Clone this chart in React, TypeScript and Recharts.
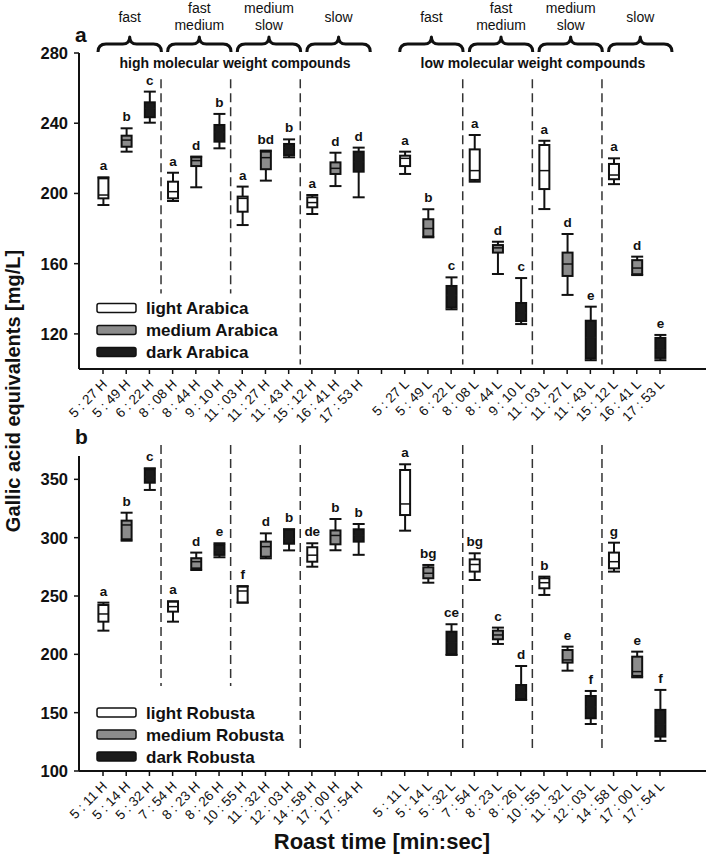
import React from "react";
import { ComposedChart, Bar, XAxis, YAxis, ReferenceLine } from "recharts";

const FONT = "'Liberation Sans', Arial, Helvetica, sans-serif";

// tick labels (roast times)
const arabicaTimes = ["5 : 27", "5 : 49", "6 : 22", "8 : 08", "8 : 44", "9 : 10", "11 : 03", "11 : 27", "11 : 43", "15 : 12", "16 : 41", "17 : 53"];
const robustaTimes = ["5 : 11", "5 : 14", "5 : 32", "7 : 54", "8 : 23", "8 : 26", "10 : 55", "11 : 32", "12 : 03", "14 : 58", "17 : 00", "17 : 54"];
const tones = ["light", "medium", "dark"];

// box values: [whisker low, q1, median, q3, whisker high]
const arabicaHigh = [
  [193.4, 197.2, 199.1, 208.6, 209.2], [223.8, 226.6, 230.4, 232.9, 237.1], [240.3, 243.4, 248.5, 251.9, 258],
  [195.7, 197.2, 201, 206.7, 211.8], [203.5, 215.6, 218.7, 220.6, 221], [225.7, 229.5, 235, 239, 245.3],
  [182, 189.6, 197.2, 198.2, 203.9], [207.3, 213.8, 220.4, 223.8, 224.4], [220.6, 221.9, 226, 228.2, 230.8],
  [188.3, 192.1, 194.8, 197.8, 199.1], [204.2, 211.1, 214.3, 217.7, 223.2], [197.8, 212.4, 218, 223.8, 226.1],
];
const arabicaLow = [
  [211.1, 215.6, 220, 221.5, 223.8], [175, 175.5, 180, 185.3, 191], [134, 135, 142, 147.3, 152.2],
  [206.7, 207.7, 213, 225.1, 233.3], [154.1, 166.3, 169, 170.6, 172.5], [125.6, 127.3, 132, 137.6, 151.8],
  [191.1, 202.5, 213, 227.6, 230], [142.2, 153, 159.8, 166.3, 176.9], [105, 106, 118, 127.5, 135.5],
  [205.3, 208.1, 210.5, 216.8, 220], [153.5, 154, 157.5, 162, 164], [105, 106.3, 111, 117.7, 119.4],
];
const arabicaHighLetters = ["a", "b", "c", "a", "d", "b", "a", "bd", "b", "a", "d", "d"];
const arabicaLowLetters = ["a", "b", "c", "a", "d", "c", "a", "d", "e", "a", "d", "e"];

const robustaHigh = [
  [220.3, 228, 234.6, 242.3, 244.3], [297.4, 298.6, 310.9, 314.6, 321.4], [340.9, 347.1, 352, 358.6, 359.5],
  [228, 236.6, 240.9, 245.1, 245.5], [272.3, 273.7, 279.4, 282.4, 287.2], [283.2, 285.2, 289, 293.7, 295.2],
  [244.3, 244.5, 254.3, 258, 258.5], [282.3, 283.7, 292.3, 296.6, 303.7], [289.1, 294.8, 299, 307, 307.2],
  [275.1, 279.4, 285, 291.8, 295.2], [289.2, 294.3, 301.9, 306.2, 316], [285.3, 296.6, 302, 307.2, 311.7],
];
const robustaLow = [
  [306, 319.4, 328.9, 358, 362.9], [261.4, 265.2, 269.5, 274.6, 276.6], [199.5, 200, 210, 219.4, 225.8],
  [263.7, 270.9, 277, 281.4, 286.6], [208.9, 212.9, 216.6, 220.3, 222.9], [160.9, 161.5, 167, 173.7, 190],
  [250.9, 256.6, 261.4, 265.2, 266.6], [186, 192.9, 195.2, 203.7, 206.6], [140.3, 145.2, 155, 164.3, 168.6],
  [270.9, 273.7, 279.4, 287.2, 295.7], [180.3, 181.5, 185.2, 198, 202.3], [125.8, 129.5, 140, 152.4, 169.5],
];
const robustaHighLetters = ["a", "b", "c", "a", "d", "e", "f", "d", "b", "de", "b", "b"];
const robustaLowLetters = ["a", "bg", "ce", "bg", "c", "d", "b", "e", "f", "g", "e", "f"];

const groupNames = [["fast"], ["fast", "medium"], ["medium", "slow"], ["slow"]];

// layout
const W = 709;
const PLOT_LEFT = 79;
const PLOT_RIGHT = 706;
const PAD_L = 12.4;
const PAD_R = 34.4;
const SLOTS = 25;
const BAND = (PLOT_RIGHT - PLOT_LEFT - PAD_L - PAD_R) / SLOTS;
const slotX = (i: number) => PLOT_LEFT + PAD_L + BAND * (i + 0.5);

const FILLS: Record<string, string> = { light: "#ffffff", medium: "#8c8c8c", dark: "#1b1b1b" };

function buildRows(times: string[], high: number[][], low: number[][], hl: string[], ll: string[]) {
  const rows: any[] = [];
  high.forEach((v, i) => rows.push({ id: "h" + i, label: times[i] + " H", tone: tones[i % 3], wb: v[0], q1: v[1], med: v[2], q3: v[3], wt: v[4], letter: hl[i] }));
  rows.push({ id: "gap", label: "" });
  low.forEach((v, i) => rows.push({ id: "l" + i, label: times[i] + " L", tone: tones[i % 3], wb: v[0], q1: v[1], med: v[2], q3: v[3], wt: v[4], letter: ll[i] }));
  return rows;
}

const arabicaRows = buildRows(arabicaTimes, arabicaHigh, arabicaLow, arabicaHighLetters, arabicaLowLetters);
const robustaRows = buildRows(robustaTimes, robustaHigh, robustaLow, robustaHighLetters, robustaLowLetters);

function BoxShape(props: any) {
  const { x, y, width, height } = props;
  const d = props.payload || props;
  if (d == null || d.wt == null || !height) return null;
  const top = Math.min(y, y + height);
  const span = Math.abs(height);
  const k = span / (d.wt - d.wb);
  const py = (v: number) => top + (d.wt - v) * k;
  const cx = x + width / 2;
  const fill = FILLS[d.tone];
  const medStroke = d.tone === "dark" ? "#1b1b1b" : "#111";
  return (
    <g>
      <line x1={cx} x2={cx} y1={py(d.wt)} y2={py(d.q3)} stroke="#111" strokeWidth={2} />
      <line x1={cx} x2={cx} y1={py(d.q1)} y2={py(d.wb)} stroke="#111" strokeWidth={2} />
      <line x1={cx - 6} x2={cx + 6} y1={py(d.wt)} y2={py(d.wt)} stroke="#111" strokeWidth={2} />
      <line x1={cx - 6} x2={cx + 6} y1={py(d.wb)} y2={py(d.wb)} stroke="#111" strokeWidth={2} />
      <rect x={cx - 5} y={py(d.q3)} width={10} height={Math.max(py(d.q1) - py(d.q3), 1)} fill={fill} stroke="#111" strokeWidth={2} />
      <line x1={cx - 5} x2={cx + 5} y1={py(d.med)} y2={py(d.med)} stroke={medStroke} strokeWidth={1.5} />
      <text x={cx} y={py(d.wt) - 7} textAnchor="middle" fontSize={13.5} fontWeight="bold" fontFamily={FONT} fill="#111">
        {d.letter}
      </text>
    </g>
  );
}

function makeTick(rows: any[]) {
  const map: Record<string, string> = {};
  rows.forEach((r) => (map[r.id] = r.label));
  return (props: any) => {
    const { x, y, payload } = props;
    return (
      <g transform={`translate(${x + 5},${y + 9})`}>
        <text x={0} y={0} textAnchor="end" transform="rotate(-45)" fontSize={13.5} fontFamily={FONT} fill="#111">
          {map[payload.value]}
        </text>
      </g>
    );
  };
}

const separators = ["h2", "h5", "h8", "l2", "l5", "l8"];

function Panel({ rows, domain, ticks, height, top, bottom, sepTop, sepShort, sepLong }: any) {
  return (
    <ComposedChart width={W} height={height} data={rows} margin={{ top, right: W - PLOT_RIGHT, bottom, left: 0 }}>
      <XAxis
        dataKey="id"
        type="category"
        interval={0}
        height={60}
        padding={{ left: PAD_L, right: PAD_R }}
        tick={makeTick(rows)}
        tickSize={5}
        axisLine={{ stroke: "#111", strokeWidth: 2 }}
        tickLine={{ stroke: "#111", strokeWidth: 1.5 }}
      />
      <YAxis
        type="number"
        domain={domain}
        ticks={ticks}
        width={PLOT_LEFT}
        tickSize={5}
        tickMargin={6}
        axisLine={{ stroke: "#111", strokeWidth: 2 }}
        tickLine={{ stroke: "#111", strokeWidth: 1.5 }}
        tick={{ fill: "#111", fontSize: 16.5, fontWeight: "bold", fontFamily: FONT }}
      />
      {separators.map((s, i) => (
        <ReferenceLine
          key={s}
          segment={[{ x: s, y: sepTop }, { x: s, y: i < 2 ? sepShort : sepLong }]}
          position="end"
          ifOverflow="visible"
          stroke="#333"
          strokeWidth={1.5}
          strokeDasharray="9 5"
        />
      ))}
      <Bar dataKey={(d: any) => (d.wt == null ? null : [d.wb, d.wt])} barSize={12} shape={BoxShape} isAnimationActive={false} />
    </ComposedChart>
  );
}

function Brace({ a, b }: { a: number; b: number }) {
  const x1 = slotX(a) - 5;
  const x2 = slotX(b) + 12;
  const m = (x1 + x2) / 2;
  const d = `M${x1},52 Q${x1},44 ${x1 + 8},44 L${m - 7},44 Q${m},44 ${m},37 Q${m},44 ${m + 7},44 L${x2 - 8},44 Q${x2},44 ${x2},52`;
  return <path d={d} fill="none" stroke="#111" strokeWidth={3} strokeLinejoin="round" />;
}

function Legend({ names, y0 }: { names: string[]; y0: number }) {
  return (
    <g>
      {names.map((n, i) => (
        <g key={n}>
          <rect x={97} y={y0 + i * 22 - 4.5} width={39} height={9} rx={2} fill={FILLS[tones[i]]} stroke="#111" strokeWidth={1.5} />
          <text x={146} y={y0 + i * 22 + 6} fontSize={17} fontWeight="bold" fontFamily={FONT} fill="#111">
            {n}
          </text>
        </g>
      ))}
    </g>
  );
}

export default function App() {
  const groups = [[0, 2], [3, 5], [6, 8], [9, 11], [13, 15], [16, 18], [19, 21], [22, 24]];
  return (
    <div style={{ position: "absolute", left: 0, top: 0, width: W, height: 856, background: "#fff", fontFamily: FONT }}>
      <div style={{ position: "absolute", left: 0, top: 0 }}>
        <Panel rows={arabicaRows} domain={[100, 280]} ticks={[120, 160, 200, 240, 280]} height={440} top={53} bottom={11} sepTop={265} sepShort={143} sepLong={102.5} />
      </div>
      <div style={{ position: "absolute", left: 0, top: 400 }}>
        <Panel rows={robustaRows} domain={[100, 370]} ticks={[100, 150, 200, 250, 300, 350]} height={456} top={56} bottom={25} sepTop={379.4} sepShort={172.9} sepLong={119.8} />
      </div>
      <svg width={W} height={856} style={{ position: "absolute", left: 0, top: 0, pointerEvents: "none" }}>
        {groups.map(([a, b], i) => {
          const m = (slotX(a) - 5 + slotX(b) + 12) / 2;
          const lines = groupNames[i % 4];
          return (
            <g key={i}>
              <Brace a={a} b={b} />
              {lines.map((t, j) => (
                <text key={j} x={m} y={lines.length === 1 ? 22 : 13 + j * 17} textAnchor="middle" fontSize={14} fontFamily={FONT} fill="#111">
                  {t}
                </text>
              ))}
            </g>
          );
        })}
        <text x={235} y={68} textAnchor="middle" fontSize={14} fontWeight="bold" fontFamily={FONT} fill="#111">high molecular weight compounds</text>
        <text x={533} y={68} textAnchor="middle" fontSize={14} fontWeight="bold" fontFamily={FONT} fill="#111">low molecular weight compounds</text>
        <text x={75} y={42} fontSize={21} fontWeight="bold" fontFamily={FONT} fill="#111">a</text>
        <text x={75} y={444} fontSize={21} fontWeight="bold" fontFamily={FONT} fill="#111">b</text>
        <Legend names={["light Arabica", "medium Arabica", "dark Arabica"]} y0={308} />
        <Legend names={["light Robusta", "medium Robusta", "dark Robusta"]} y0={712.5} />
        <text transform="translate(20,391) rotate(-90)" textAnchor="middle" fontSize={20} fontWeight="bold" fontFamily={FONT} fill="#111">
          Gallic acid equivalents [mg/L]
        </text>
        <text x={382} y={849} textAnchor="middle" fontSize={22} fontWeight="bold" fontFamily={FONT} fill="#111">
          Roast time [min:sec]
        </text>
      </svg>
    </div>
  );
}
